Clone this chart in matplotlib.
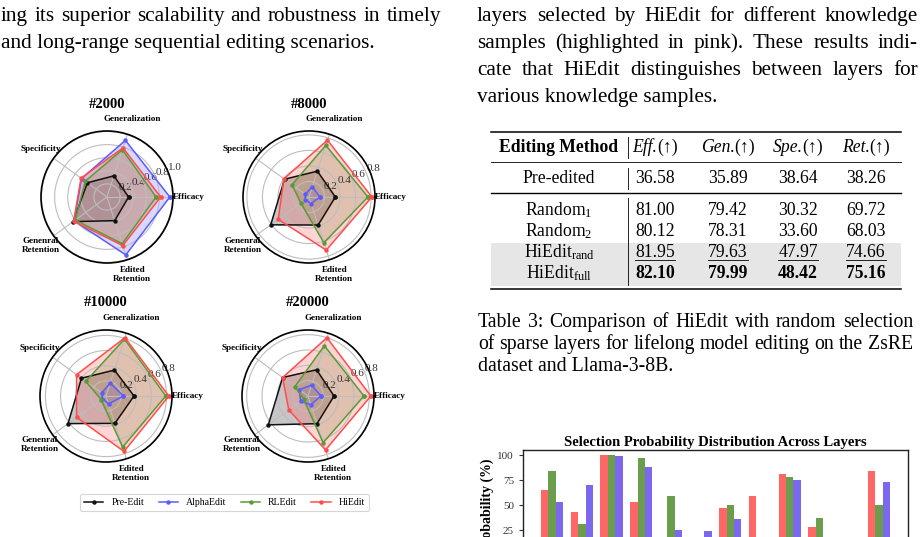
import numpy as np
import matplotlib
matplotlib.use('Agg')
import matplotlib.pyplot as plt
from matplotlib.lines import Line2D
from matplotlib.patches import Rectangle

plt.rcParams['font.family'] = ['Liberation Serif', 'DejaVu Serif']
plt.rcParams['mathtext.fontset'] = 'custom'
plt.rcParams['mathtext.rm'] = 'Liberation Serif'
plt.rcParams['mathtext.it'] = 'Liberation Serif:italic'
plt.rcParams['mathtext.bf'] = 'Liberation Serif:bold'

# ---- data ----
axes_names = ['Efficacy', 'Generalization', 'Specificity', 'Genenral\nRetention', 'Edited\nRetention']
methods = ['Pre-Edit', 'AlphaEdit', 'RLEdit', 'HiEdit']
method_colors = ['#111111', '#5c5cff', '#5a9a36', '#ff4d4d']

radar_2000 = [[0.33, 0.34, 0.37, 0.64, 0.38],
              [0.96, 0.91, 0.48, 0.62, 0.93],
              [0.75, 0.76, 0.41, 0.60, 0.75],
              [0.82, 0.79, 0.49, 0.63, 0.78]]
radar_8000 = [[0.34, 0.35, 0.39, 0.61, 0.38],
              [0.14, 0.14, 0.06, 0.06, 0.09],
              [0.76, 0.70, 0.27, 0.13, 0.62],
              [0.81, 0.77, 0.40, 0.49, 0.72]]
radar_10000 = [[0.37, 0.36, 0.40, 0.62, 0.38],
               [0.23, 0.18, 0.07, 0.06, 0.11],
               [0.79, 0.79, 0.33, 0.08, 0.71],
               [0.83, 0.81, 0.48, 0.48, 0.77]]
radar_20000 = [[0.34, 0.36, 0.41, 0.64, 0.38],
               [0.17, 0.15, 0.14, 0.12, 0.12],
               [0.73, 0.69, 0.21, 0.07, 0.64],
               [0.82, 0.80, 0.41, 0.31, 0.74]]

table_header = ['Editing Method', 'Eff.', 'Gen.', 'Spe.', 'Ret.']
table_rows = ['Pre-edited', 'Random$_\\mathrm{1}$', 'Random$_\\mathrm{2}$',
              'HiEdit$_\\mathrm{rand}$', 'HiEdit$_\\mathrm{full}$']
table_vals = [['36.58', '35.89', '38.64', '38.26'],
              ['81.00', '79.42', '30.32', '69.72'],
              ['80.12', '78.31', '33.60', '68.03'],
              ['81.95', '79.63', '47.97', '74.66'],
              ['82.10', '79.99', '48.42', '75.16']]

# bar chart (layers whose bars fall below the visible part are given small values)
bar_red = [65, 43, 100, 53, 10, 10, 47, 59, 81, 28, 10, 84]
bar_green = [84, 31, 100, 97, 59, 10, 50, 10, 78, 37, 10, 50]
bar_blue = [53, 70, 99, 88, 25, 24, 36, 10, 75, 10, 10, 73]

body_left = ['ing its superior scalability and robustness in timely',
             'and long-range sequential editing scenarios.']
body_right = ['layers selected by HiEdit for different knowledge',
              'samples (highlighted in pink). These results indi-',
              'cate that HiEdit distinguishes between layers for',
              'various knowledge samples.']
caption = ['Table 3: Comparison of HiEdit with random selection',
           'of sparse layers for lifelong model editing on the ZsRE',
           'dataset and Llama-3-8B.']

W, H = 923, 537
fig = plt.figure(figsize=(W / 100, H / 100), dpi=100)
page = fig.add_axes([0, 0, 1, 1])
page.set_xlim(0, W)
page.set_ylim(H, 0)
page.axis('off')
renderer = fig.canvas.get_renderer()


def width_of(s, **kw):
    t = page.text(0, 0, s, **kw)
    w = t.get_window_extent(renderer).width
    t.remove()
    return w


def text_line(x0, x1, y, s, size, justify=True):
    if not justify:
        page.text(x0, y, s, fontsize=size, va='baseline')
        return
    words = s.split()
    ws = [width_of(w, fontsize=size) for w in words]
    gap = (x1 - x0 - sum(ws)) / (len(words) - 1)
    x = x0
    for w, wd in zip(words, ws):
        page.text(x, y, w, fontsize=size, va='baseline')
        x += wd + gap


# body text
for i, s in enumerate(body_left):
    text_line(1, 441, 21 + 27 * i, s, 15.3, justify=(i < len(body_left) - 1))
for i, s in enumerate(body_right):
    text_line(477, 918, 21 + 27 * i, s, 15.3, justify=(i < len(body_right) - 1))

# caption
for i, s in enumerate(caption):
    text_line(478, 913, 327 + 22 * i, s, 14.2, justify=(i < len(caption) - 1))

# ---- table ----
col_x = [559, 655, 728, 798, 866]
row_y = [183, 215, 236, 257, 278]
tsize = 12.7

page.add_patch(Rectangle((491, 243), 410, 43, color='#e6e6e6', lw=0, zorder=0))
page.plot([491, 901], [131.5, 131.5], color='black', lw=1.1)
page.plot([491, 901], [162, 162], color='black', lw=0.6)
page.plot([491, 901], [193, 193], color='black', lw=1.0)
page.plot([491, 901], [289, 289], color='black', lw=1.1)
for y0, y1 in [(137, 158), (168, 189), (198, 285)]:
    page.plot([628, 628], [y0, y1], color='black', lw=0.6)


def segments(xc, y, parts, size):
    ws = [width_of(s, fontsize=size, **kw) for s, kw in parts]
    x = xc - sum(ws) / 2
    for (s, kw), w in zip(parts, ws):
        page.text(x, y, s, fontsize=size, va='baseline', **kw)
        x += w


segments(col_x[0], 152, [(table_header[0], {'fontweight': 'bold'})], tsize)
for j in range(1, 5):
    segments(col_x[j], 152, [(table_header[j], {'fontstyle': 'italic'}), ('(\u2191)', {})], tsize)

for i, name in enumerate(table_rows):
    page.text(col_x[0], row_y[i], name, fontsize=tsize, ha='center', va='baseline')
    for j, v in enumerate(table_vals[i]):
        bold = 'bold' if i == 4 else 'normal'
        page.text(col_x[j + 1], row_y[i], v, fontsize=tsize, ha='center', va='baseline',
                  fontweight=bold)
        if i == 3:
            w = width_of(v, fontsize=tsize)
            page.plot([col_x[j + 1] - w / 2, col_x[j + 1] + w / 2], [259.5, 259.5],
                      color='black', lw=0.6)

# ---- radar charts ----
angles = np.linspace(0, 2 * np.pi, 5, endpoint=False)


def radar(cx, cy, title, data):
    R = 66
    ax = fig.add_axes([(cx - R) / W, 1 - (cy + R) / H, 2 * R / W, 2 * R / H], projection='polar')
    rmax = max(max(d) for d in data) * 1.05
    for d, c in zip(data, method_colors):
        a = np.append(angles, angles[0])
        v = np.append(d, d[0])
        ax.plot(a, v, color=c, lw=1.1, marker='o', ms=2.2)
        ax.fill(a, v, color=c, alpha=0.24, lw=0)
    ax.set_ylim(0, rmax)
    ticks = [t for t in [0.2, 0.4, 0.6, 0.8, 1.0] if t <= rmax + 1e-9]
    ax.set_yticks(ticks)
    ax.set_yticklabels(['%.1f' % t for t in ticks], fontsize=8, color='#333333')
    ax.set_rlabel_position(22.5)
    ax.set_xticks(angles)
    ax.set_xticklabels([])
    ax.grid(color='#bdbdbd', lw=0.8)
    ax.spines['polar'].set_color('black')
    ax.spines['polar'].set_linewidth(1.2)
    for ang, name in zip(angles, axes_names):
        ax.text(ang, 1.24 * rmax, name, ha='center', va='center', fontsize=6.6,
                fontweight='bold', multialignment='center')
    page.text(cx, 104 if cy < 300 else 303, title, ha='center', va='center',
              fontsize=10.5, fontweight='bold')


radar(107, 197, '#2000', radar_2000)
radar(309, 197, '#8000', radar_8000)
radar(106, 396, '#10000', radar_10000)
radar(308, 396, '#20000', radar_20000)

handles = [Line2D([], [], color=c, marker='o', ms=2.2, lw=1.1) for c in method_colors]
leg = page.legend(handles, methods, loc='center', bbox_to_anchor=(224.5 / W, 1 - 502.5 / H),
                  bbox_transform=fig.transFigure, ncol=4, fontsize=7, frameon=True,
                  handlelength=2.0, columnspacing=1.5, handletextpad=0.8, borderpad=0.4)
leg.get_frame().set_edgecolor('#cccccc')
leg.get_frame().set_linewidth(0.8)

# ---- bar chart (cut off at the bottom of the page) ----
axb = fig.add_axes([523 / W, 1 - 555 / H, 385 / W, 105 / H])
x = np.arange(len(bar_red))
axb.bar(x - 0.25, bar_red, 0.25, color='#ff6666')
axb.bar(x, bar_green, 0.25, color='#6a9e4c')
axb.bar(x + 0.25, bar_blue, 0.25, color='#7b68ee')
axb.set_xlim(-0.98, 11.98)
axb.set_ylim(0, 105)
axb.set_yticks([25, 50, 75, 100])
axb.tick_params(axis='y', labelsize=8, length=3, colors='#333333')
axb.set_xticks([])
for sp in axb.spines.values():
    sp.set_color('#222222')
    sp.set_linewidth(1.0)
axb.set_title('Selection Probability Distribution Across Layers', fontsize=10.5,
              fontweight='bold', pad=3)
axb.set_ylabel('Probability (%)', fontsize=10, fontweight='bold')
axb.yaxis.set_label_coords(-0.075, 0.47)

fig.savefig('out.png', dpi=100)
